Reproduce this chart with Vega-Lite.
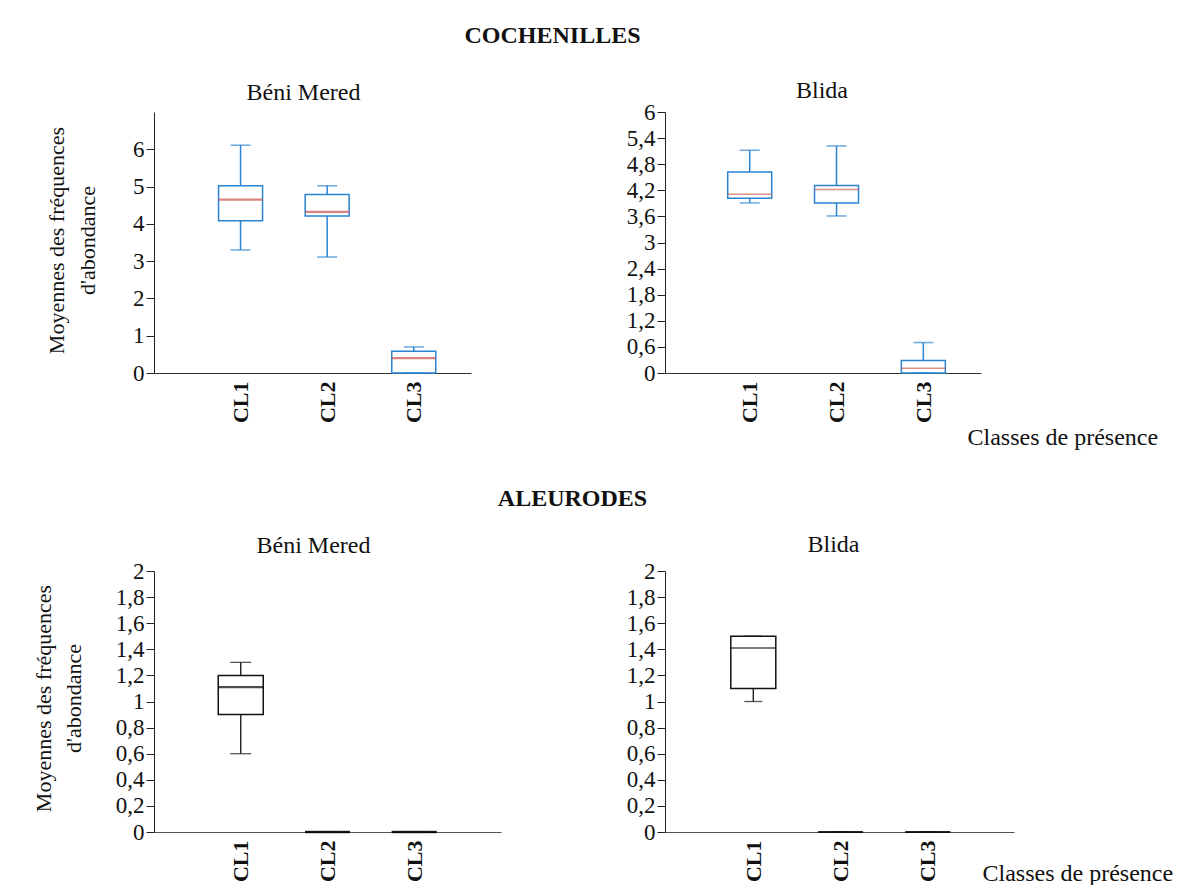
{
  "$schema": "https://vega.github.io/schema/vega-lite/v6.json",
  "background": "white",
  "padding": {"left": 31, "top": 24, "right": 5, "bottom": 0},
  "bounds": "flush",
  "columns": 2,
  "spacing": {"row": 198, "column": 164},
  "datasets": {
    "boites": [
      {"groupe": "COCHENILLES", "station": "Béni Mered", "classe": "CL1", "min": 3.3, "q1": 4.08, "median": 4.65, "q3": 5.02, "max": 6.11},
      {"groupe": "COCHENILLES", "station": "Béni Mered", "classe": "CL2", "min": 3.11, "q1": 4.21, "median": 4.32, "q3": 4.79, "max": 5.02},
      {"groupe": "COCHENILLES", "station": "Béni Mered", "classe": "CL3", "min": 0, "q1": 0, "median": 0.4, "q3": 0.58, "max": 0.7},
      {"groupe": "COCHENILLES", "station": "Blida", "classe": "CL1", "min": 3.91, "q1": 4.02, "median": 4.11, "q3": 4.62, "max": 5.12},
      {"groupe": "COCHENILLES", "station": "Blida", "classe": "CL2", "min": 3.61, "q1": 3.91, "median": 4.22, "q3": 4.31, "max": 5.22},
      {"groupe": "COCHENILLES", "station": "Blida", "classe": "CL3", "min": 0, "q1": 0, "median": 0.11, "q3": 0.29, "max": 0.7},
      {"groupe": "ALEURODES", "station": "Béni Mered", "classe": "CL1", "min": 0.6, "q1": 0.9, "median": 1.11, "q3": 1.2, "max": 1.3},
      {"groupe": "ALEURODES", "station": "Béni Mered", "classe": "CL2", "min": 0, "q1": 0, "median": 0, "q3": 0, "max": 0},
      {"groupe": "ALEURODES", "station": "Béni Mered", "classe": "CL3", "min": 0, "q1": 0, "median": 0, "q3": 0, "max": 0},
      {"groupe": "ALEURODES", "station": "Blida", "classe": "CL1", "min": 1.0, "q1": 1.1, "median": 1.41, "q3": 1.5, "max": 1.5},
      {"groupe": "ALEURODES", "station": "Blida", "classe": "CL2", "min": 0, "q1": 0, "median": 0, "q3": 0, "max": 0},
      {"groupe": "ALEURODES", "station": "Blida", "classe": "CL3", "min": 0, "q1": 0, "median": 0, "q3": 0, "max": 0}
    ]
  },
  "concat": [
    {
      "width": 317, "height": 261,
      "title": {"text": "COCHENILLES", "dx": 240, "offset": 13, "baseline": "alphabetic", "fontSize": 24, "fontWeight": "bold", "font": "Liberation Serif", "anchor": "middle", "frame": "group", "color": "#111"},
      "data": {"name": "boites"},
      "transform": [{"filter": "datum.groupe === 'COCHENILLES' && datum.station === 'Béni Mered'"}],
      "encoding": {
        "x": {"field": "classe", "type": "nominal", "scale": {"type": "point", "domain": ["CL1", "CL2", "CL3"], "padding": 0.83, "align": 0.602},
          "axis": {"labelAngle": -90, "labelFontWeight": "bold", "labelFontSize": 22, "ticks": false, "labelPadding": 8, "domainColor": "#333",
            "title": "Béni Mered", "titleX": 149, "titleY": -274, "titleAlign": "center", "titleBaseline": "alphabetic", "titleFontSize": 24, "titleFontWeight": "normal"}}
      },
      "layer": [
        {"mark": {"type": "rule", "color": "#2a84d2", "strokeWidth": 1.5},
         "encoding": {
           "y": {"field": "min", "type": "quantitative", "scale": {"domain": [0, 7], "nice": false},
             "axis": {"values": [0, 1, 2, 3, 4, 5, 6], "format": "~g", "tickSize": 8, "labelPadding": 2, "labelFontSize": 23, "domainColor": "#222", "tickColor": "#222",
               "title": ["Moyennes des fréquences", "d'abondance"], "titleX": -91, "titleY": 128, "titleAlign": "center", "titleBaseline": "alphabetic", "titleLineHeight": 31, "titleFontSize": 22, "titleFontWeight": "normal"}},
           "y2": {"field": "max"}}},
        {"mark": {"type": "bar", "width": 44, "fill": "white", "stroke": "#2a84d2", "strokeWidth": 1.5},
         "encoding": {
           "y": {"field": "q1", "type": "quantitative", "scale": {"domain": [0, 7], "nice": false},
             "axis": {"values": [0, 1, 2, 3, 4, 5, 6], "format": "~g", "tickSize": 8, "labelPadding": 2, "labelFontSize": 23, "domainColor": "#222", "tickColor": "#222",
               "title": ["Moyennes des fréquences", "d'abondance"], "titleX": -91, "titleY": 128, "titleAlign": "center", "titleBaseline": "alphabetic", "titleLineHeight": 31, "titleFontSize": 22, "titleFontWeight": "normal"}},
           "y2": {"field": "q3"}}},
        {"mark": {"type": "tick", "size": 44, "thickness": 2.2, "color": "#c94f4a"},
         "encoding": {"y": {"field": "median", "type": "quantitative", "scale": {"domain": [0, 7], "nice": false},
             "axis": {"values": [0, 1, 2, 3, 4, 5, 6], "format": "~g", "tickSize": 8, "labelPadding": 2, "labelFontSize": 23, "domainColor": "#222", "tickColor": "#222",
               "title": ["Moyennes des fréquences", "d'abondance"], "titleX": -91, "titleY": 128, "titleAlign": "center", "titleBaseline": "alphabetic", "titleLineHeight": 31, "titleFontSize": 22, "titleFontWeight": "normal"}}}},
        {"mark": {"type": "tick", "size": 20, "thickness": 1.5, "color": "#2a84d2"},
         "encoding": {"y": {"field": "min", "type": "quantitative", "scale": {"domain": [0, 7], "nice": false},
             "axis": {"values": [0, 1, 2, 3, 4, 5, 6], "format": "~g", "tickSize": 8, "labelPadding": 2, "labelFontSize": 23, "domainColor": "#222", "tickColor": "#222",
               "title": ["Moyennes des fréquences", "d'abondance"], "titleX": -91, "titleY": 128, "titleAlign": "center", "titleBaseline": "alphabetic", "titleLineHeight": 31, "titleFontSize": 22, "titleFontWeight": "normal"}}}},
        {"mark": {"type": "tick", "size": 20, "thickness": 1.5, "color": "#2a84d2"},
         "encoding": {"y": {"field": "max", "type": "quantitative", "scale": {"domain": [0, 7], "nice": false},
             "axis": {"values": [0, 1, 2, 3, 4, 5, 6], "format": "~g", "tickSize": 8, "labelPadding": 2, "labelFontSize": 23, "domainColor": "#222", "tickColor": "#222",
               "title": ["Moyennes des fréquences", "d'abondance"], "titleX": -91, "titleY": 128, "titleAlign": "center", "titleBaseline": "alphabetic", "titleLineHeight": 31, "titleFontSize": 22, "titleFontWeight": "normal"}}}}
      ]
    },
    {
      "width": 316, "height": 261,
      "title": {"text": "Blida", "dx": -1, "offset": -21, "baseline": "alphabetic", "fontSize": 24, "fontWeight": "normal", "font": "Liberation Serif", "anchor": "middle", "frame": "group", "color": "#111"},
      "data": {"name": "boites"},
      "transform": [{"filter": "datum.groupe === 'COCHENILLES' && datum.station === 'Blida'"}],
      "encoding": {
        "x": {"field": "classe", "type": "nominal", "scale": {"type": "point", "domain": ["CL1", "CL2", "CL3"], "padding": 0.82, "align": 0.595},
          "axis": {"labelAngle": -90, "labelFontWeight": "bold", "labelFontSize": 22, "ticks": false, "labelPadding": 8, "domainColor": "#333",
            "title": "Classes de présence", "titleX": 302, "titleY": 71, "titleAlign": "left", "titleBaseline": "alphabetic", "titleFontSize": 24, "titleFontWeight": "normal"}}
      },
      "layer": [
        {"mark": {"type": "rule", "color": "#2a84d2", "strokeWidth": 1.5},
         "encoding": {
           "y": {"field": "min", "type": "quantitative", "scale": {"domain": [0, 6], "nice": false},
             "axis": {"values": [0, 0.6, 1.2, 1.8, 2.4, 3, 3.6, 4.2, 4.8, 5.4, 6], "format": "~g", "tickSize": 8, "labelPadding": 2, "labelFontSize": 23, "domainColor": "#222", "tickColor": "#222", "title": null}},
           "y2": {"field": "max"}}},
        {"mark": {"type": "bar", "width": 44, "fill": "white", "stroke": "#2a84d2", "strokeWidth": 1.5},
         "encoding": {
           "y": {"field": "q1", "type": "quantitative", "scale": {"domain": [0, 6], "nice": false},
             "axis": {"values": [0, 0.6, 1.2, 1.8, 2.4, 3, 3.6, 4.2, 4.8, 5.4, 6], "format": "~g", "tickSize": 8, "labelPadding": 2, "labelFontSize": 23, "domainColor": "#222", "tickColor": "#222", "title": null}},
           "y2": {"field": "q3"}}},
        {"mark": {"type": "tick", "size": 44, "thickness": 1.4, "color": "#d0605b"},
         "encoding": {"y": {"field": "median", "type": "quantitative", "scale": {"domain": [0, 6], "nice": false},
             "axis": {"values": [0, 0.6, 1.2, 1.8, 2.4, 3, 3.6, 4.2, 4.8, 5.4, 6], "format": "~g", "tickSize": 8, "labelPadding": 2, "labelFontSize": 23, "domainColor": "#222", "tickColor": "#222", "title": null}}}},
        {"mark": {"type": "tick", "size": 20, "thickness": 1.5, "color": "#2a84d2"},
         "encoding": {"y": {"field": "min", "type": "quantitative", "scale": {"domain": [0, 6], "nice": false},
             "axis": {"values": [0, 0.6, 1.2, 1.8, 2.4, 3, 3.6, 4.2, 4.8, 5.4, 6], "format": "~g", "tickSize": 8, "labelPadding": 2, "labelFontSize": 23, "domainColor": "#222", "tickColor": "#222", "title": null}}}},
        {"mark": {"type": "tick", "size": 20, "thickness": 1.5, "color": "#2a84d2"},
         "encoding": {"y": {"field": "max", "type": "quantitative", "scale": {"domain": [0, 6], "nice": false},
             "axis": {"values": [0, 0.6, 1.2, 1.8, 2.4, 3, 3.6, 4.2, 4.8, 5.4, 6], "format": "~g", "tickSize": 8, "labelPadding": 2, "labelFontSize": 23, "domainColor": "#222", "tickColor": "#222", "title": null}}}}
      ]
    },
    {
      "width": 347, "height": 261,
      "title": {"text": "ALEURODES", "dx": 245, "offset": 3, "baseline": "alphabetic", "fontSize": 24, "fontWeight": "bold", "font": "Liberation Serif", "anchor": "middle", "frame": "group", "color": "#111"},
      "data": {"name": "boites"},
      "transform": [{"filter": "datum.groupe === 'ALEURODES' && datum.station === 'Béni Mered'"}],
      "encoding": {
        "x": {"field": "classe", "type": "nominal", "scale": {"type": "point", "domain": ["CL1", "CL2", "CL3"], "padding": 1, "align": 0.5},
          "axis": {"labelAngle": -90, "labelFontWeight": "bold", "labelFontSize": 22, "ticks": false, "labelPadding": 8, "domainColor": "#555",
            "title": "Béni Mered", "titleX": 159, "titleY": -280, "titleAlign": "center", "titleBaseline": "alphabetic", "titleFontSize": 24, "titleFontWeight": "normal"}}
      },
      "layer": [
        {"mark": {"type": "rule", "color": "#111", "strokeWidth": 1.3},
         "encoding": {
           "y": {"field": "min", "type": "quantitative", "scale": {"domain": [0, 2], "nice": false},
             "axis": {"values": [0, 0.2, 0.4, 0.6, 0.8, 1, 1.2, 1.4, 1.6, 1.8, 2], "format": "~g", "tickSize": 8, "labelPadding": 2, "labelFontSize": 23, "domainColor": "#222", "tickColor": "#222",
               "title": ["Moyennes des fréquences", "d'abondance"], "titleX": -104, "titleY": 127, "titleAlign": "center", "titleBaseline": "alphabetic", "titleLineHeight": 30, "titleFontSize": 22, "titleFontWeight": "normal"}},
           "y2": {"field": "max"}}},
        {"mark": {"type": "bar", "width": 45, "fill": "white", "stroke": "#111", "strokeWidth": 1.5},
         "encoding": {
           "y": {"field": "q1", "type": "quantitative", "scale": {"domain": [0, 2], "nice": false},
             "axis": {"values": [0, 0.2, 0.4, 0.6, 0.8, 1, 1.2, 1.4, 1.6, 1.8, 2], "format": "~g", "tickSize": 8, "labelPadding": 2, "labelFontSize": 23, "domainColor": "#222", "tickColor": "#222",
               "title": ["Moyennes des fréquences", "d'abondance"], "titleX": -104, "titleY": 127, "titleAlign": "center", "titleBaseline": "alphabetic", "titleLineHeight": 30, "titleFontSize": 22, "titleFontWeight": "normal"}},
           "y2": {"field": "q3"}}},
        {"mark": {"type": "tick", "size": 45, "thickness": 2.4, "color": "#000"},
         "encoding": {"y": {"field": "median", "type": "quantitative", "scale": {"domain": [0, 2], "nice": false},
             "axis": {"values": [0, 0.2, 0.4, 0.6, 0.8, 1, 1.2, 1.4, 1.6, 1.8, 2], "format": "~g", "tickSize": 8, "labelPadding": 2, "labelFontSize": 23, "domainColor": "#222", "tickColor": "#222",
               "title": ["Moyennes des fréquences", "d'abondance"], "titleX": -104, "titleY": 127, "titleAlign": "center", "titleBaseline": "alphabetic", "titleLineHeight": 30, "titleFontSize": 22, "titleFontWeight": "normal"}}}},
        {"mark": {"type": "tick", "size": 21, "thickness": 1.3, "color": "#111"},
         "encoding": {"y": {"field": "min", "type": "quantitative", "scale": {"domain": [0, 2], "nice": false},
             "axis": {"values": [0, 0.2, 0.4, 0.6, 0.8, 1, 1.2, 1.4, 1.6, 1.8, 2], "format": "~g", "tickSize": 8, "labelPadding": 2, "labelFontSize": 23, "domainColor": "#222", "tickColor": "#222",
               "title": ["Moyennes des fréquences", "d'abondance"], "titleX": -104, "titleY": 127, "titleAlign": "center", "titleBaseline": "alphabetic", "titleLineHeight": 30, "titleFontSize": 22, "titleFontWeight": "normal"}}}},
        {"mark": {"type": "tick", "size": 21, "thickness": 1.3, "color": "#111"},
         "encoding": {"y": {"field": "max", "type": "quantitative", "scale": {"domain": [0, 2], "nice": false},
             "axis": {"values": [0, 0.2, 0.4, 0.6, 0.8, 1, 1.2, 1.4, 1.6, 1.8, 2], "format": "~g", "tickSize": 8, "labelPadding": 2, "labelFontSize": 23, "domainColor": "#222", "tickColor": "#222",
               "title": ["Moyennes des fréquences", "d'abondance"], "titleX": -104, "titleY": 127, "titleAlign": "center", "titleBaseline": "alphabetic", "titleLineHeight": 30, "titleFontSize": 22, "titleFontWeight": "normal"}}}}
      ]
    },
    {
      "width": 349, "height": 261,
      "title": {"text": "Blida", "dx": -6, "offset": -16, "baseline": "alphabetic", "fontSize": 24, "fontWeight": "normal", "font": "Liberation Serif", "anchor": "middle", "frame": "group", "color": "#111"},
      "data": {"name": "boites"},
      "transform": [{"filter": "datum.groupe === 'ALEURODES' && datum.station === 'Blida'"}],
      "encoding": {
        "x": {"field": "classe", "type": "nominal", "scale": {"type": "point", "domain": ["CL1", "CL2", "CL3"], "padding": 1.017, "align": 0.506},
          "axis": {"labelAngle": -90, "labelFontWeight": "bold", "labelFontSize": 22, "ticks": false, "labelPadding": 8, "domainColor": "#555",
            "title": "Classes de présence", "titleX": 317, "titleY": 48, "titleAlign": "left", "titleBaseline": "alphabetic", "titleFontSize": 24, "titleFontWeight": "normal"}}
      },
      "layer": [
        {"mark": {"type": "rule", "color": "#111", "strokeWidth": 1.3},
         "encoding": {
           "y": {"field": "min", "type": "quantitative", "scale": {"domain": [0, 2], "nice": false},
             "axis": {"values": [0, 0.2, 0.4, 0.6, 0.8, 1, 1.2, 1.4, 1.6, 1.8, 2], "format": "~g", "tickSize": 8, "labelPadding": 2, "labelFontSize": 23, "domainColor": "#222", "tickColor": "#222", "title": null}},
           "y2": {"field": "max"}}},
        {"mark": {"type": "bar", "width": 45, "fill": "white", "stroke": "#111", "strokeWidth": 1.5},
         "encoding": {
           "y": {"field": "q1", "type": "quantitative", "scale": {"domain": [0, 2], "nice": false},
             "axis": {"values": [0, 0.2, 0.4, 0.6, 0.8, 1, 1.2, 1.4, 1.6, 1.8, 2], "format": "~g", "tickSize": 8, "labelPadding": 2, "labelFontSize": 23, "domainColor": "#222", "tickColor": "#222", "title": null}},
           "y2": {"field": "q3"}}},
        {"mark": {"type": "tick", "size": 45, "thickness": 1.4, "color": "#000"},
         "encoding": {"y": {"field": "median", "type": "quantitative", "scale": {"domain": [0, 2], "nice": false},
             "axis": {"values": [0, 0.2, 0.4, 0.6, 0.8, 1, 1.2, 1.4, 1.6, 1.8, 2], "format": "~g", "tickSize": 8, "labelPadding": 2, "labelFontSize": 23, "domainColor": "#222", "tickColor": "#222", "title": null}}}},
        {"mark": {"type": "tick", "size": 18, "thickness": 1.3, "color": "#111"},
         "encoding": {"y": {"field": "min", "type": "quantitative", "scale": {"domain": [0, 2], "nice": false},
             "axis": {"values": [0, 0.2, 0.4, 0.6, 0.8, 1, 1.2, 1.4, 1.6, 1.8, 2], "format": "~g", "tickSize": 8, "labelPadding": 2, "labelFontSize": 23, "domainColor": "#222", "tickColor": "#222", "title": null}}}},
        {"mark": {"type": "tick", "size": 18, "thickness": 1.3, "color": "#111"},
         "encoding": {"y": {"field": "max", "type": "quantitative", "scale": {"domain": [0, 2], "nice": false},
             "axis": {"values": [0, 0.2, 0.4, 0.6, 0.8, 1, 1.2, 1.4, 1.6, 1.8, 2], "format": "~g", "tickSize": 8, "labelPadding": 2, "labelFontSize": 23, "domainColor": "#222", "tickColor": "#222", "title": null}}}}
      ]
    }
  ],
  "config": {
    "view": {"stroke": null},
    "font": "Liberation Serif",
    "locale": {"number": {"decimal": ",", "thousands": " ", "grouping": [3], "currency": ["", " €"]}},
    "axis": {"labelFont": "Liberation Serif", "titleFont": "Liberation Serif", "grid": false, "labelColor": "#111", "titleColor": "#111"}
  }
}
